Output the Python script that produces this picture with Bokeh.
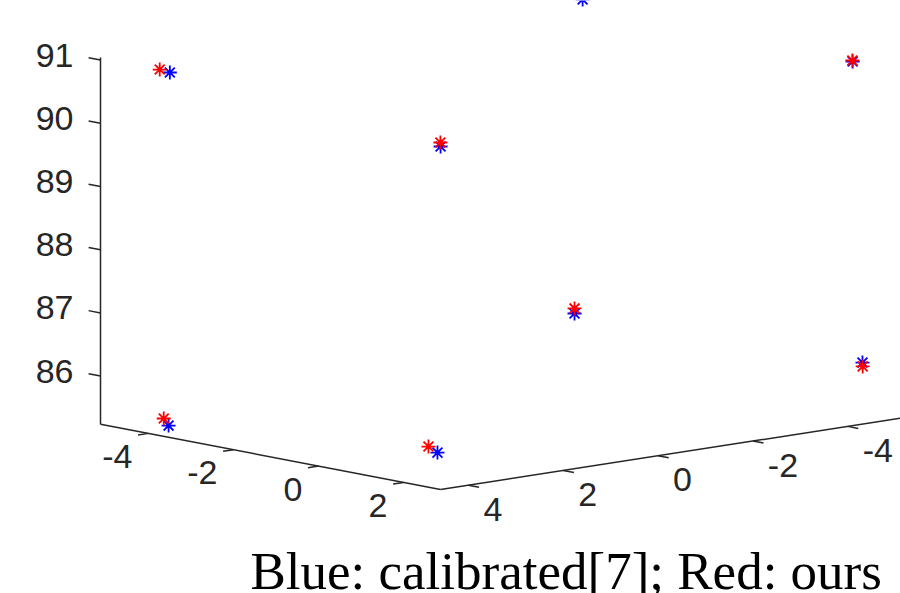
import numpy as np
from bokeh.plotting import figure
from bokeh.models import Range1d
from bokeh.core.properties import value
from bokeh.embed import file_html
from bokeh.resources import INLINE

# ---- data (3-D positions) ----
calib_x = [-4.32, -4.29, 2.52, 2.37, -0.88, -0.79, 2.17, 2.14]
calib_y = [3.88, 3.88, 4.34, 4.14, -1.60, -1.69, -4.94, -4.76]
calib_z = [85.24, 90.83, 85.75, 90.55, 86.82, 91.79, 86.05, 90.83]

ours_x = [-4.59, -4.64, 2.23, 2.31, -0.88, -0.81, 2.22, 2.11]
ours_y = [3.74, 3.78, 4.27, 4.09, -1.60, -1.67, -4.90, -4.78]
ours_z = [85.30, 90.82, 85.80, 90.60, 86.90, 91.90, 86.00, 90.84]

x_ticks = [-4, -2, 0, 2]
y_ticks = [4, 2, 0, -2, -4]
z_ticks = [86, 87, 88, 89, 90, 91]
x_lim = (-5.13, 2.87)
y_lim = (-6.5, 4.59)
z_lim = (85.24, 91.04)
caption = "Blue: calibrated[7]; Red: ours"

# ---- view (orthographic projection, screen pixels per data unit) ----
W, H = 900, 593
ORIGIN = (440.0, 489.0)          # screen position of (xmax, ymax, zmin)
UX = (42.5, 8.17)
UY = (-47.4, 7.35)
UZ = (0.0, -63.2)


def proj(x, y, z):
    dx = np.asarray(x, float) - x_lim[1]
    dy = np.asarray(y, float) - y_lim[1]
    dz = np.asarray(z, float) - z_lim[0]
    sx = ORIGIN[0] + UX[0] * dx + UY[0] * dy + UZ[0] * dz
    sy = ORIGIN[1] + UX[1] * dx + UY[1] * dy + UZ[1] * dz
    return sx, sy


p = figure(width=W, height=H, x_range=Range1d(0, W), y_range=Range1d(H, 0),
           output_backend="svg", toolbar_location=None, min_border=0,
           x_axis_type=None, y_axis_type=None)
p.grid.visible = False
p.outline_line_color = None
p.background_fill_color = "white"
p.border_fill_color = "white"

AX_COLOR = "#262626"
FONT = value("Liberation Sans")

# axis lines
xmin, xmax = x_lim
ymin, ymax = y_lim
zmin, zmax = z_lim
lines = [
    ((xmin, xmin), (ymax, ymax), (zmin, zmax)),   # z axis
    ((xmin, xmax), (ymax, ymax), (zmin, zmin)),   # x axis
    ((xmax, xmax), (ymax, ymin), (zmin, zmin)),   # y axis
]
xs, ys = [], []
for lx, ly, lz in lines:
    a, b = proj(lx, ly, lz)
    xs.append(list(a)); ys.append(list(b))

# tick marks (outward)
for t in z_ticks:
    a, b = proj([xmin, xmin - 0.28], [ymax, ymax], [t, t])
    xs.append(list(a)); ys.append(list(b))
for t in x_ticks:
    a, b = proj([t, t], [ymax, ymax + 0.22], [zmin, zmin])
    xs.append(list(a)); ys.append(list(b))
for t in y_ticks:
    a, b = proj([xmax, xmax + 0.25], [t, t], [zmin, zmin])
    xs.append(list(a)); ys.append(list(b))

p.multi_line(xs, ys, line_color=AX_COLOR, line_width=1.5)

# tick labels
zx, zy = proj([xmin] * len(z_ticks), [ymax] * len(z_ticks), z_ticks)
p.text(x=list(zx), y=list(zy), text=[str(t) for t in z_ticks], text_font=FONT,
       text_font_size="34px", text_align="right", text_baseline="middle",
       x_offset=-27, y_offset=-5, text_color=AX_COLOR)

xx, xy = proj(x_ticks, [ymax] * len(x_ticks), [zmin] * len(x_ticks))
p.text(x=list(xx), y=list(xy), text=[str(t) for t in x_ticks], text_font=FONT,
       text_font_size="34px", text_align="right", text_baseline="middle",
       x_offset=-16, y_offset=23, text_color=AX_COLOR)

yx, yy = proj([xmax] * len(y_ticks), y_ticks, [zmin] * len(y_ticks))
p.text(x=list(yx), y=list(yy), text=[str(t) for t in y_ticks], text_font=FONT,
       text_font_size="34px", text_align="left", text_baseline="middle",
       x_offset=15, y_offset=24, text_color=AX_COLOR)

# points
bx, by = proj(calib_x, calib_y, calib_z)
p.scatter(list(bx), list(by), marker="asterisk", size=14, line_color="#0000ff",
          line_width=1.8)
rx, ry = proj(ours_x, ours_y, ours_z)
p.scatter(list(rx), list(ry), marker="asterisk", size=14, line_color="#ff0000",
          line_width=1.8)

# caption
p.text(x=[250], y=[570], text=[caption], text_font=value("Liberation Serif"),
       text_font_size="53px", text_align="left", text_baseline="middle",
       text_color="black")

open("out.html", "w").write(file_html(p, INLINE))
